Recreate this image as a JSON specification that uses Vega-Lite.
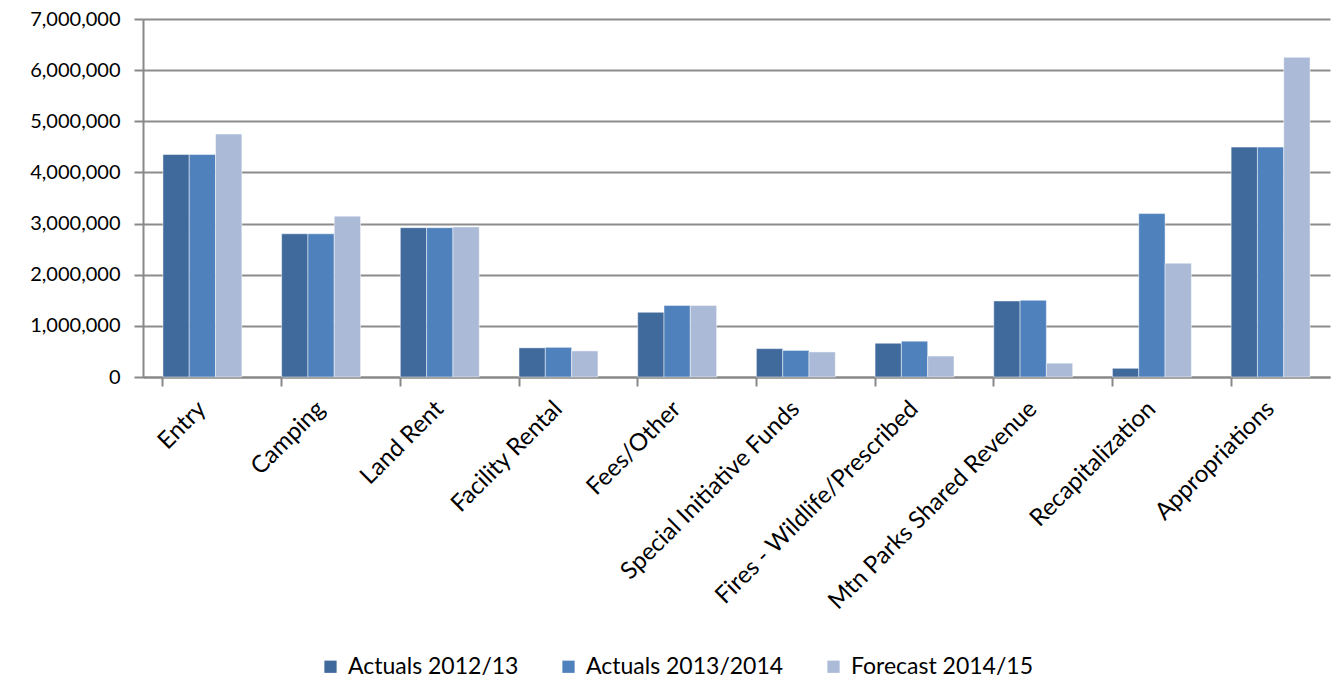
{
  "$schema": "https://vega.github.io/schema/vega-lite/v6.json",
  "width": 1187,
  "height": 358,
  "autosize": {"type": "none"},
  "padding": {"left": 143, "top": 19, "right": 5, "bottom": 302},
  "background": "white",
  "config": {
    "font": "Lato",
    "view": {"stroke": null}
  },
  "data": {
    "values": [
      {"category": "Entry", "series": "Actuals 2012/13", "value": 4350000},
      {"category": "Entry", "series": "Actuals 2013/2014", "value": 4350000},
      {"category": "Entry", "series": "Forecast 2014/15", "value": 4750000},
      {"category": "Camping", "series": "Actuals 2012/13", "value": 2800000},
      {"category": "Camping", "series": "Actuals 2013/2014", "value": 2800000},
      {"category": "Camping", "series": "Forecast 2014/15", "value": 3145000},
      {"category": "Land Rent", "series": "Actuals 2012/13", "value": 2920000},
      {"category": "Land Rent", "series": "Actuals 2013/2014", "value": 2920000},
      {"category": "Land Rent", "series": "Forecast 2014/15", "value": 2935000},
      {"category": "Facility Rental", "series": "Actuals 2012/13", "value": 570000},
      {"category": "Facility Rental", "series": "Actuals 2013/2014", "value": 580000},
      {"category": "Facility Rental", "series": "Forecast 2014/15", "value": 510000},
      {"category": "Fees/Other", "series": "Actuals 2012/13", "value": 1265000},
      {"category": "Fees/Other", "series": "Actuals 2013/2014", "value": 1400000},
      {"category": "Fees/Other", "series": "Forecast 2014/15", "value": 1400000},
      {"category": "Special Initiative Funds", "series": "Actuals 2012/13", "value": 555000},
      {"category": "Special Initiative Funds", "series": "Actuals 2013/2014", "value": 520000},
      {"category": "Special Initiative Funds", "series": "Forecast 2014/15", "value": 490000},
      {"category": "Fires - Wildlife/Prescribed", "series": "Actuals 2012/13", "value": 660000},
      {"category": "Fires - Wildlife/Prescribed", "series": "Actuals 2013/2014", "value": 700000},
      {"category": "Fires - Wildlife/Prescribed", "series": "Forecast 2014/15", "value": 410000},
      {"category": "Mtn Parks Shared Revenue", "series": "Actuals 2012/13", "value": 1487000},
      {"category": "Mtn Parks Shared Revenue", "series": "Actuals 2013/2014", "value": 1500000},
      {"category": "Mtn Parks Shared Revenue", "series": "Forecast 2014/15", "value": 270000},
      {"category": "Recapitalization", "series": "Actuals 2012/13", "value": 170000},
      {"category": "Recapitalization", "series": "Actuals 2013/2014", "value": 3195000},
      {"category": "Recapitalization", "series": "Forecast 2014/15", "value": 2225000},
      {"category": "Appropriations", "series": "Actuals 2012/13", "value": 4495000},
      {"category": "Appropriations", "series": "Actuals 2013/2014", "value": 4495000},
      {"category": "Appropriations", "series": "Forecast 2014/15", "value": 6250000}
    ]
  },
  "layer": [
    {
      "mark": {"type": "bar", "stroke": "white", "strokeWidth": 0.8, "strokeOpacity": 0.6},
      "encoding": {
        "x": {
          "field": "category",
          "type": "nominal",
          "sort": null,
          "scale": {"paddingInner": 0.335, "paddingOuter": 0.168},
          "axis": {
            "title": null,
            "orient": "bottom",
            "labelAngle": -45,
            "labelAlign": "right",
            "labelBaseline": "middle",
            "labelFontSize": 24,
            "labelColor": "#000000",
            "labelPadding": 28,
            "labelLimit": 500,
            "ticks": false,
            "domain": true,
            "domainColor": "#888888",
            "domainWidth": 2,
            "grid": false
          }
        },
        "xOffset": {
          "field": "series",
          "type": "nominal",
          "sort": ["Actuals 2012/13", "Actuals 2013/2014", "Forecast 2014/15"]
        },
        "y": {
          "field": "value",
          "type": "quantitative",
          "scale": {"domain": [0, 7000000], "nice": false},
          "axis": {
            "title": null,
            "values": [0, 1000000, 2000000, 3000000, 4000000, 5000000, 6000000, 7000000],
            "format": ",.0f",
            "labelFontSize": 20,
            "labelColor": "#000000",
            "labelPadding": 14,
            "tickSize": 9,
            "tickColor": "#888888",
            "tickWidth": 2,
            "domainColor": "#888888",
            "domainWidth": 2,
            "gridColor": "#8c8c8c",
            "gridWidth": 2
          }
        },
        "color": {
          "field": "series",
          "type": "nominal",
          "sort": ["Actuals 2012/13", "Actuals 2013/2014", "Forecast 2014/15"],
          "scale": {"range": ["#416A9C", "#4F81BD", "#AABAD7"]},
          "legend": {
            "title": null,
            "orient": "none",
            "direction": "horizontal",
            "legendX": 176,
            "legendY": 636,
            "padding": 0,
            "symbolType": "square",
            "symbolSize": 150,
            "symbolStrokeWidth": 0,
            "symbolOpacity": 1,
            "labelFontSize": 23,
            "labelColor": "#000000",
            "labelOffset": 6,
            "columnPadding": 38,
            "labelLimit": 400
          }
        }
      }
    },
    {
      "mark": {"type": "tick", "opacity": 0},
      "encoding": {
        "x": {
          "field": "category",
          "type": "nominal",
          "sort": null,
          "axis": {
            "title": null,
            "orient": "bottom",
            "labels": false,
            "domain": false,
            "ticks": true,
            "bandPosition": 0,
            "tickSize": 9,
            "tickColor": "#888888",
            "tickWidth": 2,
            "grid": false
          }
        },
        "y": {"datum": 0}
      }
    }
  ],
  "resolve": {"axis": {"x": "independent"}}
}
